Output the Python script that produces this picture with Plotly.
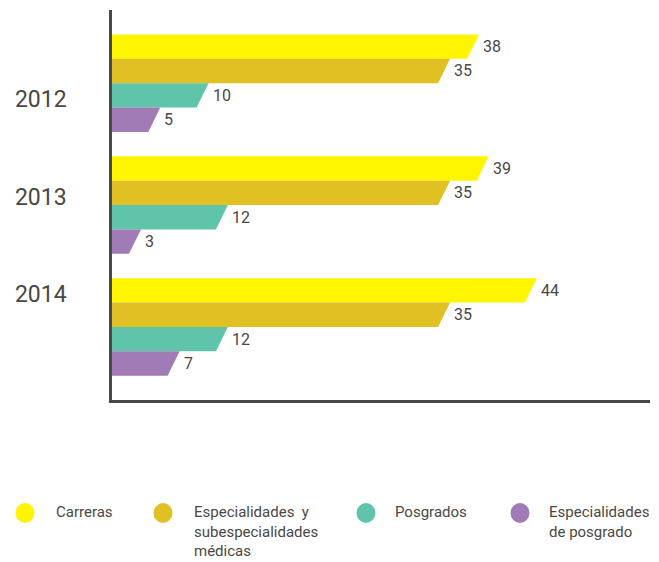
import plotly.graph_objects as go

# ---------------- data ----------------
years = ["2012", "2013", "2014"]
series_names = ["Carreras", "Especialidades  y<br>subespecialidades<br>médicas", "Posgrados", "Especialidades<br>de posgrado"]
carreras = [38, 39, 44]
especialidades = [35, 35, 35]
posgrados = [10, 12, 12]
esp_posgrado = [5, 3, 7]

colors = ["#FFF500", "#E0C022", "#60C4AB", "#A07BB6"]
series_values = [carreras, especialidades, posgrados, esp_posgrado]

# ---------------- layout constants ----------------
W, H = 659, 562
L, R, T, B = 112, 9, 10, 162
PW, PH = W - L - R, H - T - B
X_MAX = 55.7
SLANT_PX = 12
SLANT = SLANT_PX * X_MAX / PW
GROUP = 5
Y_RANGE = 16
TEXT = "#4a4744"
FONT = "Roboto"

fig = go.Figure()

for s, (name, vals, color) in enumerate(zip(series_names, series_values, colors)):
    xs, ys = [], []
    for g, v in enumerate(vals):
        top = 1 + g * GROUP + s
        bot = top + 1
        xs += [0, v, v - SLANT, 0, 0, None]
        ys += [top, top, bot, bot, top, None]
        fig.add_annotation(x=v, y=top + 0.5, text=str(v), xanchor="left", yanchor="middle",
                           xshift=2, showarrow=False, font=dict(size=16, color=TEXT, family=FONT))
    fig.add_trace(go.Scatter(x=xs, y=ys, fill="toself", fillcolor=color, mode="lines",
                             line=dict(width=0, color=color), hoverinfo="skip",
                             showlegend=False, name=name.replace("<br>", " ")))

# year labels in the reference are spaced more tightly than the bar groups
LABEL_STEP = 4
tickvals = [3.65 + g * LABEL_STEP for g in range(len(years))]

fig.update_xaxes(range=[0, X_MAX], showgrid=False, zeroline=False, showticklabels=False,
                 showline=True, linecolor=TEXT, linewidth=2.5, fixedrange=True)
fig.update_yaxes(range=[Y_RANGE, 0], showgrid=False, zeroline=False, showline=True,
                 linecolor=TEXT, linewidth=2.5, tickvals=tickvals, ticktext=years,
                 ticklabelstandoff=38, tickfont=dict(size=23, color=TEXT, family=FONT),
                 fixedrange=True)

# ---------------- custom legend ----------------
def px_to_paper(px, py):
    return (px - L) / PW, (T + PH - py) / PH

circle_x = [25, 163, 366, 520]
text_x = [54, 192, 393, 547]
circle_y = 513
text_top = 501
for cx, tx, name, color in zip(circle_x, text_x, series_names, colors):
    xp, yp = px_to_paper(cx, circle_y)
    fig.add_shape(type="circle", xref="paper", yref="paper", xsizemode="pixel", ysizemode="pixel",
                  xanchor=xp, yanchor=yp, x0=-9.5, x1=9.5, y0=-10, y1=10,
                  fillcolor=color, line=dict(width=0))
    txp, typ = px_to_paper(tx, text_top)
    fig.add_annotation(x=txp, y=typ, xref="paper", yref="paper", text=name, showarrow=False,
                       xanchor="left", yanchor="top", align="left",
                       font=dict(size=15, color=TEXT, family=FONT))

fig.update_layout(width=W, height=H, margin=dict(l=L, r=R, t=T, b=B),
                  plot_bgcolor="white", paper_bgcolor="white", showlegend=False,
                  font=dict(family=FONT, color=TEXT))

fig.write_html("out.html", config={"displayModeBar": False},
               post_script="document.body.style.margin='0';document.body.style.overflow='hidden';")
